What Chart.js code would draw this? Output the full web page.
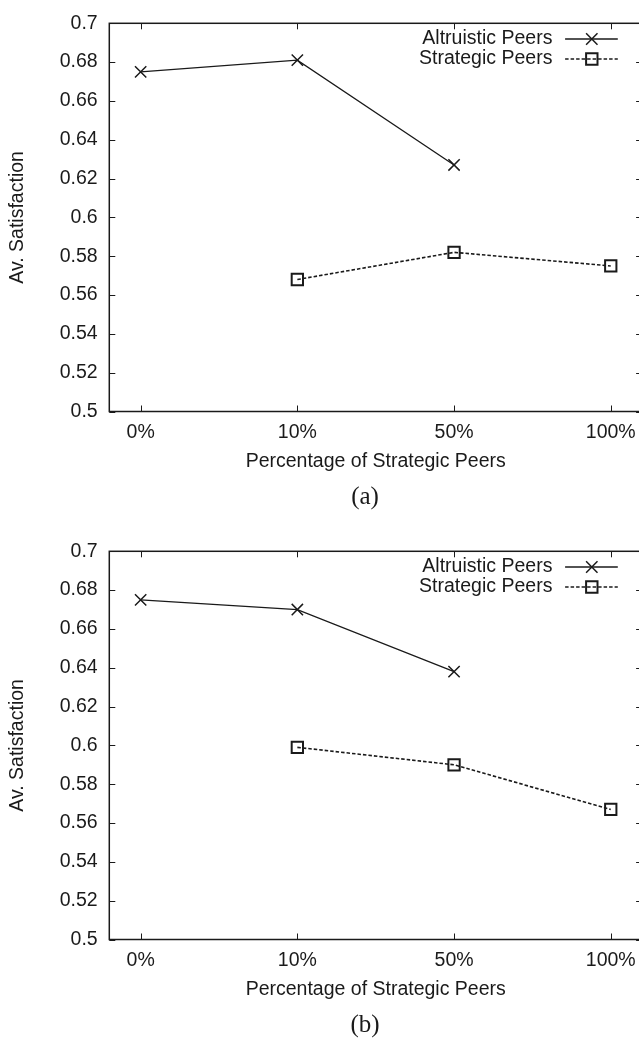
<!DOCTYPE html>
<html>
<head>
<meta charset="utf-8">
<script src="https://cdn.jsdelivr.net/npm/chart.js@4/dist/chart.umd.min.js"></script>
<style>
  html, body { margin: 0; padding: 0; background: #fff; overflow: hidden; width: 639px; height: 1039px; }
  canvas { position: absolute; left: 0; }
  #chartA { top: 0; }
  #chartB { top: 528px; }
</style>
</head>
<body>
<canvas id="chartA" width="660" height="528"></canvas>
<canvas id="chartB" width="660" height="528"></canvas>
<script>
// x-axis categories and series names
const categories = ['0%', '10%', '50%', '100%'];
const seriesNames = ['Altruistic Peers', 'Strategic Peers'];

// panel (a)
const altruisticA = [0.675, 0.681, 0.627, null];
const strategicA = [null, 0.568, 0.582, 0.575];

// panel (b)
const altruisticB = [0.675, 0.670, 0.638, null];
const strategicB = [null, 0.599, 0.590, 0.567];

const yMin = 0.5, yMax = 0.7, yStep = 0.02;
const xLabel = 'Percentage of Strategic Peers';
const yLabel = 'Av. Satisfaction';

const SANS = "'Liberation Sans', Arial, Helvetica, sans-serif";
const SERIF = "'Liberation Serif', 'Times New Roman', serif";
const INK = '#1a1a1a';
const FONT_SIZE = 19.5;

// gnuplot style box with inward ticks on all four sides
const frameAndTicks = {
    id: 'frameAndTicks',
    beforeDatasetsDraw(chart) {
        const { ctx, chartArea: a, scales: { x, y } } = chart;
        ctx.save();
        ctx.strokeStyle = INK;
        ctx.lineWidth = 1;
        ctx.beginPath();
        x.ticks.forEach(t => {
            const px = Math.round(x.getPixelForValue(t.value)) + 0.5;
            ctx.moveTo(px, a.bottom); ctx.lineTo(px, a.bottom - 6);
            ctx.moveTo(px, a.top); ctx.lineTo(px, a.top + 6);
        });
        y.ticks.forEach(t => {
            const py = Math.round(y.getPixelForValue(t.value)) + 0.5;
            ctx.moveTo(a.left, py); ctx.lineTo(a.left + 6, py);
            ctx.moveTo(a.right, py); ctx.lineTo(a.right - 6, py);
        });
        ctx.stroke();
        ctx.lineWidth = 1.5;
        ctx.strokeRect(a.left, a.top, a.right - a.left, a.bottom - a.top);
        ctx.restore();
    }
};

function drawMarker(ctx, style, x, y) {
    const d = 5.7;
    ctx.beginPath();
    if (style === 'crossRot') {
        ctx.moveTo(x - d, y - d); ctx.lineTo(x + d, y + d);
        ctx.moveTo(x + d, y - d); ctx.lineTo(x - d, y + d);
    } else {
        ctx.rect(x - d, y - d, 2 * d, 2 * d);
    }
    ctx.stroke();
}

// key in the top right corner: text, then line sample with marker
const sideLegend = {
    id: 'sideLegend',
    afterDatasetsDraw(chart) {
        const { ctx, chartArea: a } = chart;
        ctx.save();
        ctx.font = `${FONT_SIZE}px ${SANS}`;
        ctx.fillStyle = INK;
        ctx.textAlign = 'right';
        ctx.textBaseline = 'middle';
        chart.data.datasets.forEach((ds, i) => {
            const cy = a.top + 15.7 + 20 * i;
            ctx.fillText(ds.label, a.right - 89.7, cy);
            ctx.strokeStyle = ds.borderColor;
            ctx.lineWidth = ds.borderWidth;
            ctx.setLineDash(ds.borderDash || []);
            ctx.beginPath();
            ctx.moveTo(a.right - 77, cy);
            ctx.lineTo(a.right - 24.3, cy);
            ctx.stroke();
            ctx.setLineDash([]);
            ctx.lineWidth = ds.pointBorderWidth;
            drawMarker(ctx, ds.pointStyle, a.right - 50.3, cy);
        });
        ctx.restore();
    }
};

// sub-figure caption, (a) / (b)
const caption = {
    id: 'caption',
    afterDraw(chart, args, opts) {
        const { ctx } = chart;
        ctx.save();
        ctx.font = `25px ${SERIF}`;
        ctx.fillStyle = INK;
        ctx.textAlign = 'center';
        ctx.textBaseline = 'middle';
        ctx.fillText(opts.text, 365, 497.3);
        ctx.restore();
    }
};

function makeChart(canvasId, altruistic, strategic, captionText) {
    const toPoints = arr => arr.map((v, i) => ({ x: i, y: v }));
    const font = { family: SANS, size: FONT_SIZE };

    return new Chart(document.getElementById(canvasId), {
        type: 'line',
        data: {
            datasets: [{
                label: seriesNames[0],
                data: toPoints(altruistic),
                borderColor: INK,
                borderWidth: 1.3,
                pointStyle: 'crossRot',
                pointRadius: 8,
                pointBorderWidth: 1.5,
                pointBorderColor: INK,
                pointBackgroundColor: 'rgba(0,0,0,0)',
                tension: 0
            }, {
                label: seriesNames[1],
                data: toPoints(strategic),
                borderColor: INK,
                borderWidth: 1.6,
                borderDash: [3.5, 2],
                pointStyle: 'rect',
                pointRadius: 8,
                pointBorderWidth: 2,
                pointBorderColor: INK,
                pointBackgroundColor: 'rgba(0,0,0,0)',
                tension: 0
            }]
        },
        options: {
            responsive: false,
            animation: false,
            devicePixelRatio: 1,
            events: [],
            layout: { padding: { top: 19.3, right: 17.9, left: 0, bottom: 0 } },
            plugins: {
                legend: { display: false },
                tooltip: { enabled: false },
                caption: { text: captionText }
            },
            scales: {
                x: {
                    type: 'linear',
                    min: -0.2,
                    max: 3.2,
                    grid: { display: false, drawTicks: false },
                    border: { display: false },
                    afterBuildTicks: s => { s.ticks = categories.map((_, i) => ({ value: i })); },
                    afterFit: s => { s.height = 116.5; },
                    ticks: {
                        padding: 9.5,
                        color: INK,
                        font: font,
                        maxRotation: 0,
                        callback: v => categories[v]
                    },
                    title: {
                        display: true,
                        text: xLabel,
                        color: INK,
                        font: font,
                        padding: { top: 0, bottom: 54.6 }
                    }
                },
                y: {
                    min: yMin,
                    max: yMax,
                    grid: { display: false, drawTicks: false },
                    border: { display: false },
                    afterFit: s => { s.width = 109.3; },
                    ticks: {
                        stepSize: yStep,
                        padding: 11.6,
                        color: INK,
                        font: font,
                        callback: v => String(+v.toFixed(2))
                    },
                    title: {
                        display: true,
                        text: yLabel,
                        color: INK,
                        font: font,
                        padding: { top: 6.3, bottom: 0 }
                    }
                }
            }
        },
        plugins: [frameAndTicks, sideLegend, caption]
    });
}

makeChart('chartA', altruisticA, strategicA, '(a)');
makeChart('chartB', altruisticB, strategicB, '(b)');
</script>
</body>
</html>
